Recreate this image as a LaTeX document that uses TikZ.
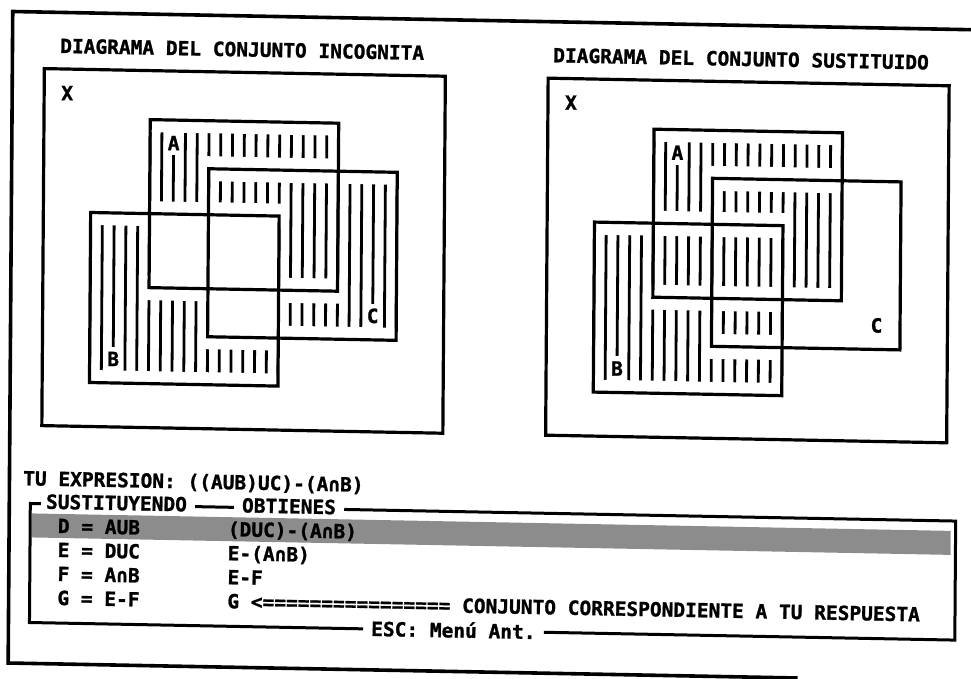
\documentclass[tikz,border=0pt]{standalone}
\usepackage{fontspec}
\setmonofont{DejaVu Sans Mono}[BoldFeatures={FakeBold=1.2}]
\usetikzlibrary{calc}

% width of one character cell of the screen
\newcommand{\hc}{11.78}

% boxes, labels and hatch gaps of one set diagram: #1 name prefix, #2 shift
\newcommand{\vennframe}[2]{%
  \begin{scope}[shift={(#2,0)}]
    % the hatching breaks along every horizontal edge
    \foreach \xa/\xb/\ya/\yb in {-1/15/126/294, 4/20/174/342, -6/10/220/390}
      \fill[white] ({\xa*\hc-3},\ya-12.5) rectangle ({\xb*\hc+3},\ya+12.5)
                   ({\xa*\hc-3},\yb-12.5) rectangle ({\xb*\hc+3},\yb+12.5);
    \draw[setbox] (-118,77) rectangle (283,434);
    \draw[setbox] ({-1*\hc},126) rectangle ({15*\hc},294);
    \draw[setbox] ({4*\hc},174) rectangle ({20*\hc},342);
    \draw[setbox] ({-6*\hc},220) rectangle ({10*\hc},390);
    \node[dos] (#1X) at (-95,101) {X};
    \node[lbl] (#1A) at ({1*\hc},149) {A};
    \node[lbl] (#1C) at ({18*\hc},318) {C};
    \node[lbl] (#1B) at ({-4*\hc},366) {B};
  \end{scope}}

\begin{document}
\begin{tikzpicture}[
  dos/.style={font=\ttfamily\bfseries\fontsize{19.5}{23}\selectfont, inner sep=0pt},
  txt/.style={dos, anchor=base west, rotate=-1.1},
  lbl/.style={dos, fill=white, inner xsep=1.5pt, inner ysep=5pt},
  setbox/.style={line width=3.2pt},
  frame/.style={line width=3pt},
  hatch/.style={line width=2.8pt}]
\useasboundingbox (0pt,0pt) rectangle (971pt,-679pt);

% screen coordinates in pixels, with the slant of the scan
\begin{scope}[x=1pt, y=1pt, cm={1,-0.019,-0.007,-1,(2.38pt,9.2pt)}]

% outer screen frame
\draw[frame, line width=3.6pt] (1000,20.5) -- (10.5,20.5) -- (10.5,672) -- (800,672);

% titles
\node[txt] (ltitle) at (58,61) {DIAGRAMA DEL CONJUNTO INCOGNITA};
\node[txt] (rtitle) at (551,61) {DIAGRAMA DEL CONJUNTO SUSTITUIDO};

% hatching, left: (AuBuC) - (Bn(AuC))
\begin{scope}[shift={(160.5,0)}]
  \begin{scope}
    \clip ({-1*\hc},126) rectangle ({15*\hc},294) ({4*\hc},174) rectangle ({20*\hc},342)
          ({-6*\hc},220) rectangle ({10*\hc},390);
    \foreach \k in {-6,...,20}
      \draw[hatch] ({\k*\hc},100) -- ({\k*\hc},420);
  \end{scope}
  \fill[white] ({-1*\hc},220) rectangle ({10*\hc},294) ({4*\hc},220) rectangle ({10*\hc},342);
\end{scope}

% hatching, right: AuB
\begin{scope}[shift={(664.3,0)}]
  \clip ({-1*\hc},126) rectangle ({15*\hc},294) ({-6*\hc},220) rectangle ({10*\hc},390);
  \foreach \k in {-6,...,15}
    \draw[hatch] ({\k*\hc},100) -- ({\k*\hc},420);
\end{scope}

\vennframe{l}{160.5}
\vennframe{r}{664.3}

% expression and substitution table
\node[txt] (expr) at (24,494) {TU EXPRESION: ((AUB)UC)-(A∩B)};

\fill[black!45] (33,522) rectangle (952,546);
\coordinate (tl) at (31.5,512);
\coordinate (tr) at (956.7,512);
\coordinate (bl) at (31.5,631);
\coordinate (br) at (956.7,631);

\node[txt] (sust) at (47,517) {SUSTITUYENDO};
\node[txt] (obt)  at (243,517) {OBTIENES};
\node[txt] (esc)  at (373,638) {ESC: Menú Ant.};

\node[txt] (d1) at (59,541) {D = AUB};
\node[txt] (d2) at (229,541) {(DUC)-(A∩B)};
\node[txt] (e1) at (59,565) {E = DUC};
\node[txt] (e2) at (229,565) {E-(A∩B)};
\node[txt] (f1) at (59,589) {F = A∩B};
\node[txt] (f2) at (229,589) {E-F};
\node[txt] (g1) at (59,613) {G = E-F};
\node[txt] (g2) at (229,613) {G <================ CONJUNTO CORRESPONDIENTE A TU RESPUESTA};

% box round the table
\draw[frame, shorten <=5pt, shorten >=8pt] ($(tl)!(sust.west)!(tr)$) -- (tl) -- (bl) -- ($(bl)!(esc.west)!(br)$);
\draw[frame, shorten <=8pt, shorten >=8pt] ($(tl)!(sust.east)!(tr)$) -- ($(tl)!(obt.west)!(tr)$);
\draw[frame, shorten <=8pt, shorten >=8pt] ($(tl)!(obt.east)!(tr)$) -- (tr) -- (br) -- ($(bl)!(esc.east)!(br)$);

\end{scope}
\end{tikzpicture}
\end{document}
